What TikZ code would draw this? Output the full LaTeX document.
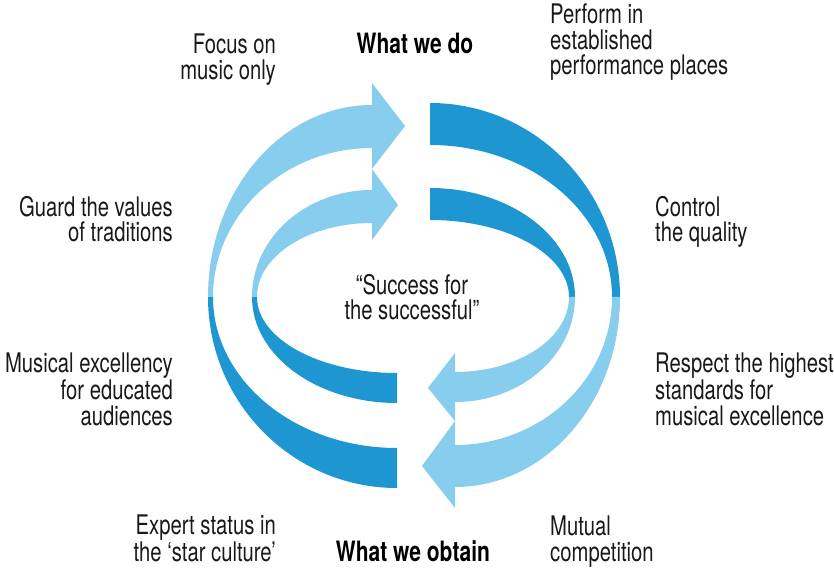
\documentclass[tikz,border=0pt]{standalone}
\usepackage{fontspec}
\setmainfont{TeX Gyre Heros}[FakeStretch=0.75]
\newfontfamily\headfont{TeX Gyre Heros}[FakeStretch=0.75]
\definecolor{darkb}{RGB}{30,150,210}
\definecolor{lightb}{RGB}{135,205,238}
\tikzset{
  lbl/.style={inner sep=0pt, font=\fontsize{27}{25.5}\selectfont, text=black!90},
  lblr/.style={lbl, align=right},
  lbll/.style={lbl, align=left},
  lblc/.style={lbl, align=center},
  head/.style={inner sep=0pt, font=\headfont\bfseries\fontsize{28}{30}\selectfont, text=black}
}
\begin{document}
\begin{tikzpicture}[x=1pt,y=1pt]
\useasboundingbox (0,0) rectangle (834,567);
% outer left ribbon
\fill[darkb] (397,79) arc[start angle=270,end angle=180,x radius=189,y radius=191] -- (213,270) arc[start angle=180,end angle=270,x radius=184,y radius=151] -- cycle;
\fill[lightb] (208,270) arc[start angle=180,end angle=90,x radius=164,y radius=192] -- (372,484) -- (405,441) -- (372,398) -- (372,419) arc[start angle=90,end angle=180,x radius=159,y radius=149] -- cycle;
% inner left ribbon
\fill[darkb] (397,164) arc[start angle=270,end angle=180,x radius=145,y radius=106] -- (257,270) arc[start angle=180,end angle=270,x radius=140,y radius=76] -- cycle;
\fill[lightb] (252,270) arc[start angle=180,end angle=90,x radius=120,y radius=107] -- (372,398) -- (398,362) -- (372,327) -- (372,344) arc[start angle=90,end angle=180,x radius=115,y radius=74] -- cycle;
% outer right ribbon
\fill[darkb] (430,464) arc[start angle=90,end angle=0,x radius=190,y radius=194] -- (612,270) arc[start angle=0,end angle=90,x radius=182,y radius=152] -- cycle;
\fill[lightb] (620,270) arc[start angle=0,end angle=-90,x radius=165,y radius=190] -- (455,59) -- (422,101) -- (455,146) -- (455,122) arc[start angle=-90,end angle=0,x radius=157,y radius=148] -- cycle;
% inner right ribbon
\fill[darkb] (430,379) arc[start angle=90,end angle=0,x radius=145,y radius=109] -- (569,270) arc[start angle=0,end angle=90,x radius=139,y radius=77] -- cycle;
\fill[lightb] (575,270) arc[start angle=0,end angle=-90,x radius=120,y radius=105] -- (455,146) -- (428,179) -- (455,214) -- (455,195) arc[start angle=-90,end angle=0,x radius=114,y radius=75] -- cycle;
% labels
\node[head, anchor=north] (do) at (415,534) {What we do};
\node[head, anchor=north] (obtain) at (413,27) {What we obtain};
\node[lblr, anchor=north east] (focus) at (276,533) {Focus on\\music only};
\node[lblr, anchor=north east] (guard) at (173,371) {Guard the values\\of traditions};
\node[lblr, anchor=north east] (musical) at (173,214) {Musical excellency\\for educated\\audiences};
\node[lblr, anchor=north east] (expert) at (276,52) {Expert status in\\the ‘star culture’};
\node[lbll, anchor=north west] (perform) at (550,563) {Perform in\\established\\performance places};
\node[lbll, anchor=north west] (control) at (655,371) {Control\\the quality};
\node[lbll, anchor=north west] (respect) at (655,214) {Respect the highest\\standards for\\musical excellence};
\node[lbll, anchor=north west] (mutual) at (550,51) {Mutual\\competition};
\node[lblc, anchor=north] (success) at (412,293) {“Success for\\the successful”};
\end{tikzpicture}
\end{document}
